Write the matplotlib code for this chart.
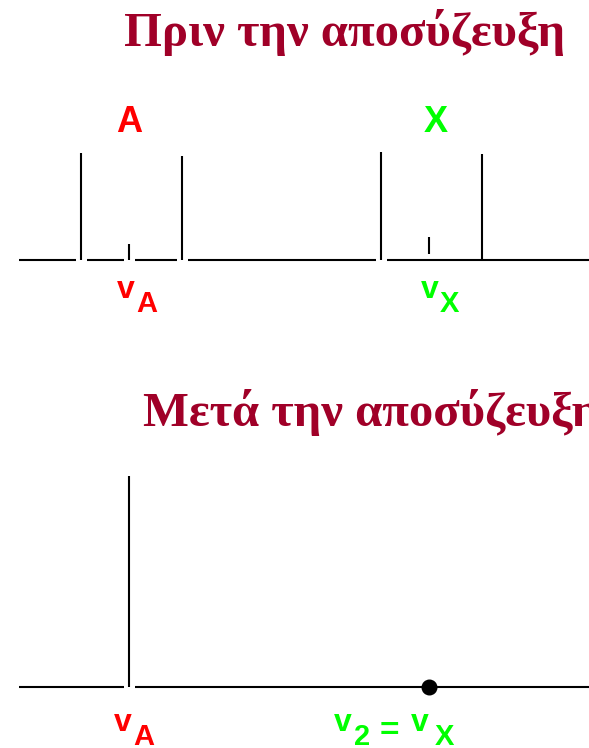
import matplotlib.pyplot as plt

# top spectrum (before decoupling)
top_pos = [81, 129, 182, 381, 429, 482]
top_height = [107, 16, 104, 108, 17, 106]
top_lift = [0, 0, 0, 0, 6, 0]
top_gapped = [81, 129, 182, 381]

# bottom spectrum (after decoupling)
bot_pos = [129]
bot_height = [211]
bot_gapped = [129]
dot_pos = [429]

red = '#ff0000'
green = '#00ff00'
title_col = '#a00028'

fig = plt.figure(figsize=(5.89, 7.48), dpi=100)
ax = fig.add_axes([0, 0, 1, 1])
ax.set_xlim(0, 589)
ax.set_ylim(748, 0)
ax.axis('off')

def baseline(y0, gaps, start=19, end=589, half=5.5):
    xs = [start]
    for g in sorted(gaps):
        xs += [g - half, g + half]
    xs.append(end)
    for i in range(0, len(xs), 2):
        ax.plot([xs[i], xs[i + 1]], [y0, y0], color='black', lw=1.5, solid_capstyle='butt')

# top
y0 = 260
baseline(y0, top_gapped)
for x, h, l in zip(top_pos, top_height, top_lift):
    ax.plot([x, x], [y0 - l, y0 - l - h], color='black', lw=1.5, solid_capstyle='butt')

# bottom
y1 = 687
baseline(y1, bot_gapped)
for x, h in zip(bot_pos, bot_height):
    ax.plot([x, x], [y1, y1 - h], color='black', lw=1.5, solid_capstyle='butt')
ax.plot(dot_pos, [y1] * len(dot_pos), 'o', color='black', ms=10.5)

serif = dict(family='Liberation Serif', weight='bold', color=title_col, fontsize=35)
ax.text(345, 32, 'Πριν την αποσύζευξη', ha='center', va='center', **serif)
ax.text(143, 412, 'Μετά την αποσύζευξη', ha='left', va='center', **serif)

sans = dict(family='Liberation Sans', weight='bold')
ax.text(129, 132, 'A', ha='center', va='baseline', color=red, fontsize=26, **sans)
ax.text(436, 132, 'X', ha='center', va='baseline', color=green, fontsize=26, **sans)

def vlabel(x, yb, sub, col):
    ax.text(x, yb, 'v', ha='left', va='baseline', color=col, fontsize=23, **sans)
    ax.text(x + 19, yb + 14, sub, ha='left', va='baseline', color=col, fontsize=21, **sans)

vlabel(117, 298, 'A', red)
vlabel(421, 298, 'X', green)
vlabel(114, 731, 'A', red)

ax.text(334, 731, 'v', ha='left', va='baseline', color=green, fontsize=23, **sans)
ax.text(354, 745, '2', ha='left', va='baseline', color=green, fontsize=21, **sans)
ax.text(380, 740, '=', ha='left', va='baseline', color=green, fontsize=24, **sans)
ax.text(411, 731, 'v', ha='left', va='baseline', color=green, fontsize=23, **sans)
ax.text(435, 745, 'X', ha='left', va='baseline', color=green, fontsize=21, **sans)

fig.savefig('out.png', dpi=100)
